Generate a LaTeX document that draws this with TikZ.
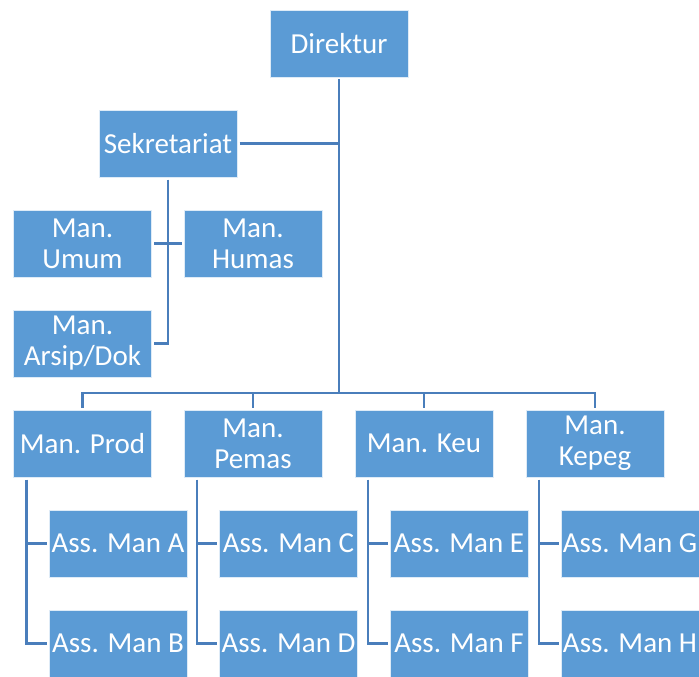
\documentclass[tikz,border=0pt]{standalone}
\usepackage{fontspec}
\setmainfont{Carlito}
\definecolor{boxblue}{HTML}{5B9BD5}
\definecolor{lineblue}{HTML}{4A7EBB}
\tikzset{
  unit/.style={fill=boxblue, draw=white!80!boxblue, line width=0.6pt, text=white,
    minimum width=138pt, minimum height=67pt, inner sep=0pt, outer sep=2.5pt,
    align=center, font=\fontsize{29}{31}\selectfont},
  link/.style={draw=lineblue, line width=2.8pt}
}
\begin{document}
\begin{tikzpicture}[x=1pt, y=-1pt]
        \useasboundingbox (0,0) rectangle (699,677);

        \node[unit] (dir)   at (339,43.5)  {Direktur};
        \node[unit] (sek)   at (168,143.5) {Sekretariat};
        \node[unit] (umum)  at (82.5,243.5) {Man.\\Umum};
        \node[unit] (humas) at (253,243.5) {Man.\\Humas};
        \node[unit] (arsip) at (82.5,343.5) {Man.\\Arsip/Dok};

        \node[unit] (prod)  at (82.5,443.5) {Man. Prod};
        \node[unit] (pemas) at (253,443.5)  {Man.\\Pemas};
        \node[unit] (keu)   at (424,443.5)  {Man. Keu};
        \node[unit] (kepeg) at (595,443.5)  {Man.\\Kepeg};

        \node[unit] (assa) at (118,543.5)   {Ass. Man A};
        \node[unit] (assb) at (118,643.5)   {Ass. Man B};
        \node[unit] (assc) at (288.5,543.5) {Ass. Man C};
        \node[unit] (assd) at (288.5,643.5) {Ass. Man D};
        \node[unit] (asse) at (459,543.5)   {Ass. Man E};
        \node[unit] (assf) at (459,643.5)   {Ass. Man F};
        \node[unit] (assg) at (630,543.5)   {Ass. Man G};
        \node[unit] (assh) at (630,643.5)   {Ass. Man H};

        \coordinate (bus) at (339,393);

        \draw[link] (dir.south) -- (bus);
        \draw[link] (sek.east) -- (sek.east -| dir.south);
        \draw[link] (sek.south) |- (arsip.east);
        \draw[link] (umum.east) -- (humas.west);

        \draw[link] (prod.north) |- (kepeg.north |- bus) -- (kepeg.north);
        \draw[link] (pemas.north) -- (pemas.north |- bus);
        \draw[link] (keu.north) -- (keu.north |- bus);

        \foreach \m/\a/\b in {prod/assa/assb, pemas/assc/assd, keu/asse/assf, kepeg/assg/assh} {
          \draw[link] ([xshift=15.5pt]\m.south west) |- (\b.west);
          \draw[link] ([xshift=15.5pt]\m.south west |- \a.west) -- (\a.west);
        }
    \end{tikzpicture}
\end{document}
